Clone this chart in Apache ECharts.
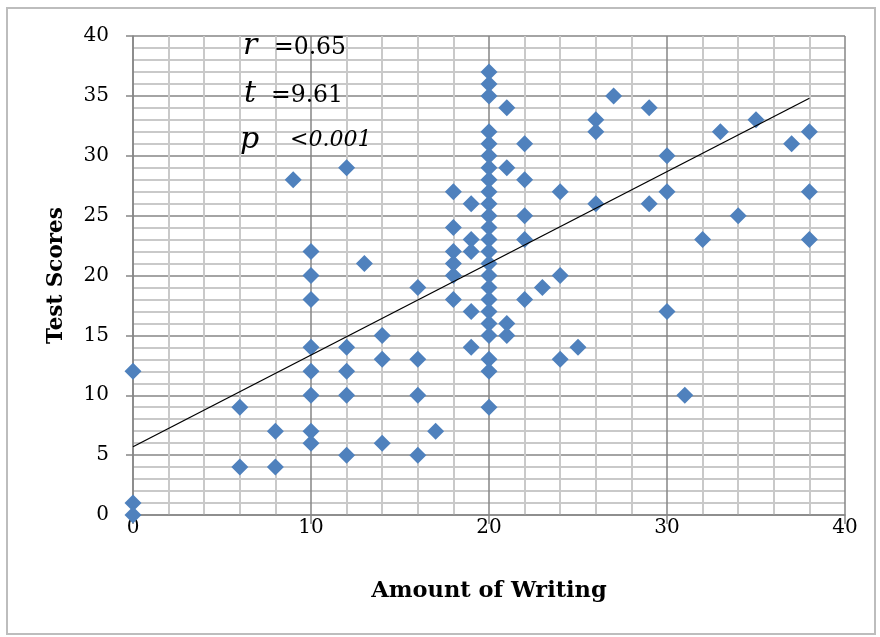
<!DOCTYPE html>
<html>
<head>
<meta charset="utf-8">
<script src="https://cdn.jsdelivr.net/npm/echarts@6/dist/echarts.min.js"></script>
<style>
  html, body { margin: 0; padding: 0; background: #fff; }
  #chart { width: 880px; height: 637px; }
</style>
</head>
<body>
<div id="chart"></div>
<script>
// amount of writing (x) and test score (y) for each student
const writing = [
  0, 0, 0, 6, 6, 8, 8, 9,
  10, 10, 10, 10, 10, 10, 10, 10,
  12, 12, 12, 12, 12, 13, 14, 14, 14,
  16, 16, 16, 16, 17,
  18, 18, 18, 18, 18, 18,
  19, 19, 19, 19, 19,
  20, 20, 20, 20, 20, 20, 20, 20, 20, 20, 20, 20, 20, 20, 20, 20, 20, 20, 20, 20, 20, 20, 20, 20,
  21, 21, 21, 21,
  22, 22, 22, 22, 22, 23, 24, 24, 24, 25,
  26, 26, 26, 27, 29, 29, 30, 30, 30, 31, 32, 33, 34, 35, 37, 38, 38, 38
];
const scores = [
  12, 1, 0, 9, 4, 7, 4, 28,
  22, 20, 18, 14, 12, 10, 7, 6,
  29, 14, 12, 10, 5, 21, 15, 13, 6,
  19, 13, 10, 5, 7,
  27, 24, 22, 21, 20, 18,
  26, 23, 22, 17, 14,
  37, 36, 35, 32, 31, 30, 29, 28, 27, 26, 25, 24, 23, 22, 21, 20, 19, 18, 17, 16, 15, 13, 12, 9,
  34, 29, 16, 15,
  31, 28, 25, 23, 18, 19, 27, 20, 13, 14,
  33, 32, 26, 35, 34, 26, 30, 27, 17, 10, 23, 32, 25, 33, 31, 32, 27, 23
];
// fitted trend line ends
const trendX = [0, 38];
const trendY = [5.7, 34.8];
const xTicks = [0, 10, 20, 30, 40];
const yTicks = [0, 5, 10, 15, 20, 25, 30, 35, 40];

const points = writing.map((w, i) => [w, scores[i]]);
const serif = '"DejaVu Serif", "Liberation Serif", serif';

function statText(x, y, str, size, italic) {
  return {
    type: 'text', x: x, y: y, z: 10,
    style: {
      text: str, fontFamily: serif, fontSize: size,
      fontStyle: italic ? 'italic' : 'normal',
      fill: '#000', verticalAlign: 'middle'
    }
  };
}

const chart = echarts.init(document.getElementById('chart'));
chart.setOption({
  animation: false,
  grid: { left: 133, right: 35, top: 36, bottom: 122, containLabel: false, outerBoundsMode: 'none' },
  xAxis: {
    type: 'value',
    min: xTicks[0], max: xTicks[xTicks.length - 1], interval: 10,
    name: 'Amount of Writing', nameLocation: 'middle', nameGap: 65,
    nameTextStyle: { fontFamily: serif, fontWeight: 'bold', fontSize: 22.5, color: '#000' },
    axisLine: { onZero: false, lineStyle: { color: '#868686', width: 1.5 } },
    axisTick: { show: true, length: 9, lineStyle: { color: '#868686', width: 1.5 } },
    axisLabel: { fontFamily: serif, fontSize: 20, color: '#000', margin: 3 },
    splitLine: { show: true, lineStyle: { color: '#868686', width: 1.5 } },
    minorTick: { show: false, splitNumber: 5 },
    minorSplitLine: { show: true, lineStyle: { color: '#c9c9c9', width: 2 } }
  },
  yAxis: {
    type: 'value',
    min: yTicks[0], max: yTicks[yTicks.length - 1], interval: 5,
    name: 'Test Scores', nameLocation: 'middle', nameGap: 66,
    nameTextStyle: { fontFamily: serif, fontWeight: 'bold', fontSize: 21.5, color: '#000' },
    axisLine: { show: true, onZero: false, lineStyle: { color: '#868686', width: 1.5 } },
    axisTick: { show: true, length: 7, lineStyle: { color: '#868686', width: 1.5 } },
    axisLabel: { fontFamily: serif, fontSize: 20, color: '#000', margin: 24 },
    splitLine: { show: true, lineStyle: { color: '#868686', width: 1.5 } },
    minorTick: { show: false, splitNumber: 5 },
    minorSplitLine: { show: true, lineStyle: { color: '#c9c9c9', width: 2 } }
  },
  series: [
    {
      type: 'line',
      data: trendX.map((x, i) => [x, trendY[i]]),
      symbol: 'none',
      lineStyle: { color: '#000', width: 1.3 },
      z: 3
    },
    {
      type: 'scatter',
      data: points,
      symbol: 'diamond',
      symbolSize: 17,
      clip: false,
      itemStyle: { color: '#4f81bd', opacity: 1 },
      z: 2
    }
  ],
  graphic: [
    {
      type: 'rect', z: -1,
      shape: { x: 7, y: 8, width: 868, height: 626 },
      style: { fill: 'none', stroke: '#bdbdbd', lineWidth: 2 }
    },
    statText(243, 46, 'r', 30, true),
    statText(274, 48, '=0.65', 23.5, false),
    statText(244, 94, 't', 30, true),
    statText(271, 96, '=9.61', 23.5, false),
    statText(240, 140, 'p', 30, true),
    statText(290, 140, '<0.001', 22, true)
  ]
});
</script>
</body>
</html>
